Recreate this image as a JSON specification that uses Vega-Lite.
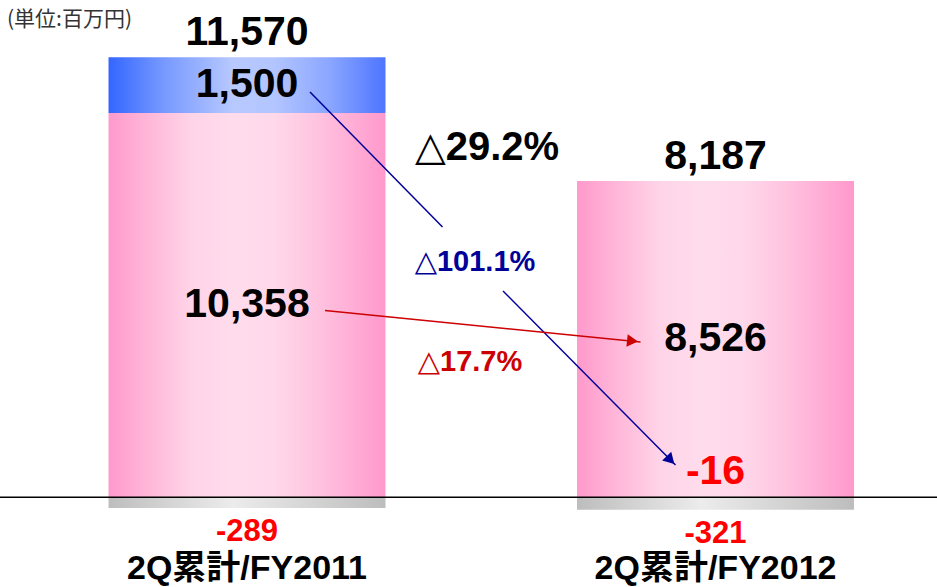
{
  "$schema": "https://vega.github.io/schema/vega-lite/v6.json",
  "width": 937,
  "height": 587,
  "autosize": {"type": "none"},
  "padding": 0,
  "background": "white",
  "config": {
    "view": {"stroke": null},
    "text": {"font": "Liberation Sans, DejaVu Sans, Noto Sans CJK JP", "fontWeight": "bold"},
    "axis": {"grid": false}
  },
  "datasets": {
    "bars": [
      {"cat": "2Q累計/FY2011", "seg": "pink", "order": 1, "value": 10358},
      {"cat": "2Q累計/FY2011", "seg": "blue", "order": 2, "value": 1500},
      {"cat": "2Q累計/FY2011", "seg": "gray", "order": 3, "value": -289},
      {"cat": "2Q累計/FY2012", "seg": "pink", "order": 1, "value": 8526},
      {"cat": "2Q累計/FY2012", "seg": "blue", "order": 2, "value": -16},
      {"cat": "2Q累計/FY2012", "seg": "gray", "order": 3, "value": -321}
    ],
    "seglabels": [
      {"cat": "2Q累計/FY2011", "text": "1,500", "v": 11108},
      {"cat": "2Q累計/FY2011", "text": "10,358", "v": 5179},
      {"cat": "2Q累計/FY2012", "text": "8,526", "v": 4263}
    ],
    "totals": [
      {"cat": "2Q累計/FY2011", "text": "11,570", "top": 11858},
      {"cat": "2Q累計/FY2012", "text": "8,187", "top": 8526}
    ],
    "neglabels": [
      {"cat": "2Q累計/FY2011", "text": "-289", "bottom": -289},
      {"cat": "2Q累計/FY2012", "text": "-321", "bottom": -337}
    ],
    "redbig": [
      {"cat": "2Q累計/FY2012", "text": "-16", "v": 682}
    ],
    "notes": [
      {"id": "total", "cat": "2Q累計/FY2011", "text": "△29.2%", "v": 9415},
      {"id": "blue", "cat": "2Q累計/FY2011", "text": "△101.1%", "v": 6342},
      {"id": "red", "cat": "2Q累計/FY2011", "text": "△17.7%", "v": 3647},
      {"id": "unit", "cat": "2Q累計/FY2011", "text": "(単位:百万円)", "v": 12704}
    ],
    "arrows": [
      {"id": "blue1", "from": "2Q累計/FY2011", "to": "2Q累計/FY2012", "y1": 10925, "y2": 7286},
      {"id": "blue2", "from": "2Q累計/FY2011", "to": "2Q累計/FY2012", "y1": 5561, "y2": 871},
      {"id": "red", "from": "2Q累計/FY2011", "to": "2Q累計/FY2012", "y1": 5035, "y2": 4186}
    ],
    "heads": [
      {"id": "blue", "cat": "2Q累計/FY2012", "v": 1005},
      {"id": "red", "cat": "2Q累計/FY2012", "v": 4213}
    ]
  },
  "layer": [
    {
      "data": {"name": "bars"},
      "transform": [
        {"stack": "value", "groupby": ["cat"], "sort": [{"field": "order", "order": "ascending"}], "as": ["y0", "y1"], "offset": "zero"},
        {"filter": "datum.seg == 'pink'"}
      ],
      "mark": {"type": "bar", "fill": {"gradient": "linear", "x1": 0, "y1": 0, "x2": 1, "y2": 0, "stops": [
        {"offset": 0, "color": "#ff99cc"},
        {"offset": 0.15, "color": "#ffb8d9"},
        {"offset": 0.3, "color": "#ffd4e8"},
        {"offset": 0.45, "color": "#ffdcec"},
        {"offset": 0.6, "color": "#ffd8ea"},
        {"offset": 0.75, "color": "#ffc4e0"},
        {"offset": 0.9, "color": "#ffaad4"},
        {"offset": 1, "color": "#ff99cc"}
      ]}},
      "encoding": {
        "x": {"field": "cat", "type": "nominal", "sort": null,
          "scale": {"paddingInner": 0.4088, "paddingOuter": 0.2044, "align": 0.5666},
          "axis": {"title": null, "orient": "bottom", "domain": false, "ticks": false, "tickSize": 0, "labelAngle": 0, "labelFontSize": 34, "labelFontWeight": "bold", "labelColor": "black", "labelFont": "Liberation Sans, Noto Sans CJK JP", "labelPadding": 0, "labelBaseline": "middle", "offset": -19, "labelLimit": 400}},
        "y": {"field": "y0", "type": "quantitative", "scale": {"domain": [-2418, 13404], "nice": false, "zero": false}, "axis": null},
        "y2": {"field": "y1"}
      }
    },
    {
      "data": {"name": "bars"},
      "transform": [
        {"stack": "value", "groupby": ["cat"], "sort": [{"field": "order", "order": "ascending"}], "as": ["y0", "y1"], "offset": "zero"},
        {"filter": "datum.seg == 'blue'"}
      ],
      "mark": {"type": "bar", "fill": {"gradient": "linear", "x1": 0, "y1": 0, "x2": 1, "y2": 0, "stops": [
        {"offset": 0, "color": "#3366ff"},
        {"offset": 0.2, "color": "#7799ff"},
        {"offset": 0.45, "color": "#b8c9ff"},
        {"offset": 0.6, "color": "#b3c5ff"},
        {"offset": 0.8, "color": "#8aa6ff"},
        {"offset": 1, "color": "#4d75ff"}
      ]}},
      "encoding": {
        "x": {"field": "cat", "type": "nominal", "sort": null},
        "y": {"field": "y0", "type": "quantitative"},
        "y2": {"field": "y1"}
      }
    },
    {
      "data": {"name": "bars"},
      "transform": [
        {"stack": "value", "groupby": ["cat"], "sort": [{"field": "order", "order": "ascending"}], "as": ["y0", "y1"], "offset": "zero"},
        {"filter": "datum.seg == 'gray'"}
      ],
      "mark": {"type": "bar", "fill": {"gradient": "linear", "x1": 0, "y1": 0, "x2": 1, "y2": 0, "stops": [
        {"offset": 0, "color": "#bdbdbd"},
        {"offset": 0.45, "color": "#ececec"},
        {"offset": 1, "color": "#bdbdbd"}
      ]}},
      "encoding": {
        "x": {"field": "cat", "type": "nominal", "sort": null},
        "y": {"field": "y0", "type": "quantitative"},
        "y2": {"field": "y1"}
      }
    },
    {
      "data": {"values": [{"base": 0}]},
      "mark": {"type": "rule", "color": "black", "strokeWidth": 1.5},
      "encoding": {"y": {"field": "base", "type": "quantitative"}}
    },
    {
      "data": {"name": "arrows"},
      "transform": [{"filter": "datum.id == 'blue1'"}],
      "mark": {"type": "rule", "color": "#000099", "strokeWidth": 1.5, "xOffset": 63, "x2Offset": -273},
      "encoding": {
        "x": {"field": "from", "type": "nominal", "sort": null},
        "x2": {"field": "to"},
        "y": {"field": "y1", "type": "quantitative"},
        "y2": {"field": "y2"}
      }
    },
    {
      "data": {"name": "arrows"},
      "transform": [{"filter": "datum.id == 'blue2'"}],
      "mark": {"type": "rule", "color": "#000099", "strokeWidth": 1.5, "xOffset": 256, "x2Offset": -40},
      "encoding": {
        "x": {"field": "from", "type": "nominal", "sort": null},
        "x2": {"field": "to"},
        "y": {"field": "y1", "type": "quantitative"},
        "y2": {"field": "y2"}
      }
    },
    {
      "data": {"name": "arrows"},
      "transform": [{"filter": "datum.id == 'red'"}],
      "mark": {"type": "rule", "color": "#cc0000", "strokeWidth": 1.5, "xOffset": 78, "x2Offset": -75},
      "encoding": {
        "x": {"field": "from", "type": "nominal", "sort": null},
        "x2": {"field": "to"},
        "y": {"field": "y1", "type": "quantitative"},
        "y2": {"field": "y2"}
      }
    },
    {
      "data": {"name": "heads"},
      "transform": [{"filter": "datum.id == 'blue'"}],
      "mark": {"type": "point", "shape": "triangle-right", "filled": true, "opacity": 1, "size": 160, "angle": 46, "color": "#000099", "xOffset": -45},
      "encoding": {
        "x": {"field": "cat", "type": "nominal", "sort": null},
        "y": {"field": "v", "type": "quantitative"}
      }
    },
    {
      "data": {"name": "heads"},
      "transform": [{"filter": "datum.id == 'red'"}],
      "mark": {"type": "point", "shape": "triangle-right", "filled": true, "opacity": 1, "size": 160, "angle": 6, "color": "#cc0000", "xOffset": -83},
      "encoding": {
        "x": {"field": "cat", "type": "nominal", "sort": null},
        "y": {"field": "v", "type": "quantitative"}
      }
    },
    {
      "data": {"name": "seglabels"},
      "mark": {"type": "text", "fontSize": 41, "color": "black", "baseline": "middle", "align": "center"},
      "encoding": {
        "x": {"field": "cat", "type": "nominal", "sort": null},
        "y": {"field": "v", "type": "quantitative"},
        "text": {"field": "text"}
      }
    },
    {
      "data": {"name": "totals"},
      "mark": {"type": "text", "fontSize": 41, "color": "black", "baseline": "alphabetic", "align": "center", "dy": -12},
      "encoding": {
        "x": {"field": "cat", "type": "nominal", "sort": null},
        "y": {"field": "top", "type": "quantitative"},
        "text": {"field": "text"}
      }
    },
    {
      "data": {"name": "redbig"},
      "mark": {"type": "text", "fontSize": 41, "color": "#ff0000", "baseline": "middle", "align": "center"},
      "encoding": {
        "x": {"field": "cat", "type": "nominal", "sort": null},
        "y": {"field": "v", "type": "quantitative"},
        "text": {"field": "text"}
      }
    },
    {
      "data": {"name": "neglabels"},
      "mark": {"type": "text", "fontSize": 31, "color": "#ff0000", "baseline": "middle", "align": "center", "dy": 24},
      "encoding": {
        "x": {"field": "cat", "type": "nominal", "sort": null},
        "y": {"field": "bottom", "type": "quantitative"},
        "text": {"field": "text"}
      }
    },
    {
      "data": {"name": "notes"},
      "transform": [{"filter": "datum.id == 'total'"}],
      "mark": {"type": "text", "fontSize": 40, "color": "black", "baseline": "middle", "align": "center", "dx": 240},
      "encoding": {
        "x": {"field": "cat", "type": "nominal", "sort": null},
        "y": {"field": "v", "type": "quantitative"},
        "text": {"field": "text"}
      }
    },
    {
      "data": {"name": "notes"},
      "transform": [{"filter": "datum.id == 'blue'"}],
      "mark": {"type": "text", "fontSize": 29, "color": "#000099", "baseline": "middle", "align": "center", "dx": 228},
      "encoding": {
        "x": {"field": "cat", "type": "nominal", "sort": null},
        "y": {"field": "v", "type": "quantitative"},
        "text": {"field": "text"}
      }
    },
    {
      "data": {"name": "notes"},
      "transform": [{"filter": "datum.id == 'red'"}],
      "mark": {"type": "text", "fontSize": 29, "color": "#cc0000", "baseline": "middle", "align": "center", "dx": 223},
      "encoding": {
        "x": {"field": "cat", "type": "nominal", "sort": null},
        "y": {"field": "v", "type": "quantitative"},
        "text": {"field": "text"}
      }
    },
    {
      "data": {"name": "notes"},
      "transform": [{"filter": "datum.id == 'unit'"}],
      "mark": {"type": "text", "fontSize": 21, "fontWeight": "normal", "font": "Noto Sans CJK JP", "color": "#333333", "baseline": "alphabetic", "align": "left", "dx": -240},
      "encoding": {
        "x": {"field": "cat", "type": "nominal", "sort": null},
        "y": {"field": "v", "type": "quantitative"},
        "text": {"field": "text"}
      }
    }
  ]
}
